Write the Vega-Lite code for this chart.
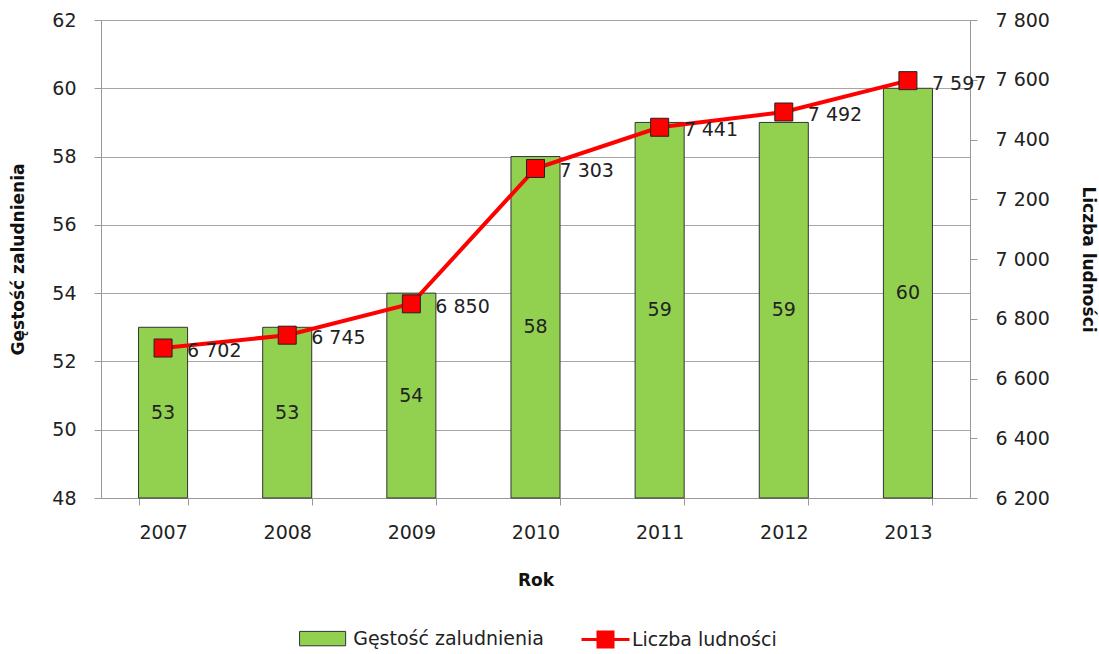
{
  "$schema": "https://vega.github.io/schema/vega-lite/v6.json",
  "width": 869,
  "height": 478,
  "autosize": {"type": "none"},
  "padding": {"left": 101, "top": 20, "right": 129, "bottom": 156},
  "background": "white",
  "data": {"values": [
    {"rok": "2007", "g": 53, "l": 6702},
    {"rok": "2008", "g": 53, "l": 6745},
    {"rok": "2009", "g": 54, "l": 6850},
    {"rok": "2010", "g": 58, "l": 7303},
    {"rok": "2011", "g": 59, "l": 7441},
    {"rok": "2012", "g": 59, "l": 7492},
    {"rok": "2013", "g": 60, "l": 7597}
  ]},
  "config": {
    "locale": {"number": {"decimal": ",", "thousands": " ", "grouping": [3], "currency": ["", " zł"]}},
    "font": "DejaVu Sans",
    "view": {"stroke": null},
    "axis": {
      "labelFont": "DejaVu Sans", "labelFontSize": 19, "labelColor": "#222",
      "titleFont": "DejaVu Sans", "titleFontSize": 17, "titleFontWeight": "bold", "titleColor": "#111",
      "domainColor": "#999", "tickColor": "#999", "gridColor": "#A6A6A6", "tickSize": 7
    },
    "legend": {"labelFont": "DejaVu Sans", "labelFontSize": 19, "labelColor": "#222", "padding": 0, "labelLimit": 0}
  },
  "encoding": {
    "x": {
      "field": "rok", "type": "nominal",
      "scale": {"paddingInner": 0.605, "paddingOuter": 0.3025},
      "axis": {"title": "Rok", "labelAngle": 0, "tickBand": "extent", "labelPadding": 18, "titlePadding": 30, "grid": false}
    }
  },
  "layer": [
    {
      "layer": [
        {
          "mark": {"type": "bar", "stroke": "#333", "strokeWidth": 1},
          "encoding": {
            "y": {"field": "g", "type": "quantitative", "title": "Gęstość zaludnienia",
                  "scale": {"domain": [48, 62], "zero": false},
                  "axis": {"values": [48, 50, 52, 54, 56, 58, 60, 62], "grid": true, "labelPadding": 18, "titlePadding": 24, "orient": "left"}},
            "y2": {"datum": 48},
            "fill": {"datum": "Gęstość zaludnienia", "type": "nominal", "scale": {"range": ["#92D050"]},
                     "legend": {"title": null, "orient": "none", "legendX": 206.6, "legendY": 603.6,
                                "symbolType": "M-1.6,-0.5H1.6V0.5H-1.6Z", "symbolSize": 829, "labelOffset": 15.6,
                                "symbolStrokeColor": "#333", "symbolStrokeWidth": 1}}
          }
        },
        {
          "transform": [{"calculate": "(datum.g + 48) / 2", "as": "mid"}],
          "mark": {"type": "text", "fontSize": 19, "color": "#222", "baseline": "middle", "align": "center"},
          "encoding": {
            "y": {"field": "mid", "type": "quantitative", "title": "Gęstość zaludnienia"},
            "text": {"field": "g", "type": "quantitative"}
          }
        }
      ]
    },
    {
      "layer": [
        {
          "mark": {"type": "line", "strokeWidth": 4},
          "encoding": {
            "y": {"field": "l", "type": "quantitative", "title": "Liczba ludności",
                  "scale": {"domain": [6200, 7800], "zero": false},
                  "axis": {"orient": "right", "values": [6200, 6400, 6600, 6800, 7000, 7200, 7400, 7600, 7800], "format": ",.0f", "grid": false, "labelPadding": 18, "titlePadding": 29}},
            "stroke": {"datum": "Liczba ludności", "type": "nominal", "scale": {"range": ["#FF0000"]},
                       "legend": {"title": null, "orient": "none", "legendX": 488, "legendY": 603,
                                  "symbolType": "M-1.6,0H1.6M-0.5,-0.5H0.5V0.5H-0.5Z", "symbolSize": 900, "labelOffset": 10,
                                  "symbolStrokeWidth": 3,
                                  "encode": {"symbols": {"update": {"fill": {"value": "#FF0000"}, "stroke": {"value": "#FF0000"}}}}}}
          }
        },
        {
          "mark": {"type": "point", "shape": "square", "filled": true, "size": 324, "fill": "#FF0000", "stroke": "#222", "strokeWidth": 1, "opacity": 1},
          "encoding": {"y": {"field": "l", "type": "quantitative"}}
        },
        {
          "mark": {"type": "text", "fontSize": 19, "color": "#222", "align": "left", "baseline": "middle", "dx": 24, "dy": 3},
          "encoding": {
            "y": {"field": "l", "type": "quantitative"},
            "text": {"field": "l", "type": "quantitative", "format": ",.0f"}
          }
        }
      ]
    }
  ],
  "resolve": {"scale": {"y": "independent", "fill": "independent", "stroke": "independent"}}
}
